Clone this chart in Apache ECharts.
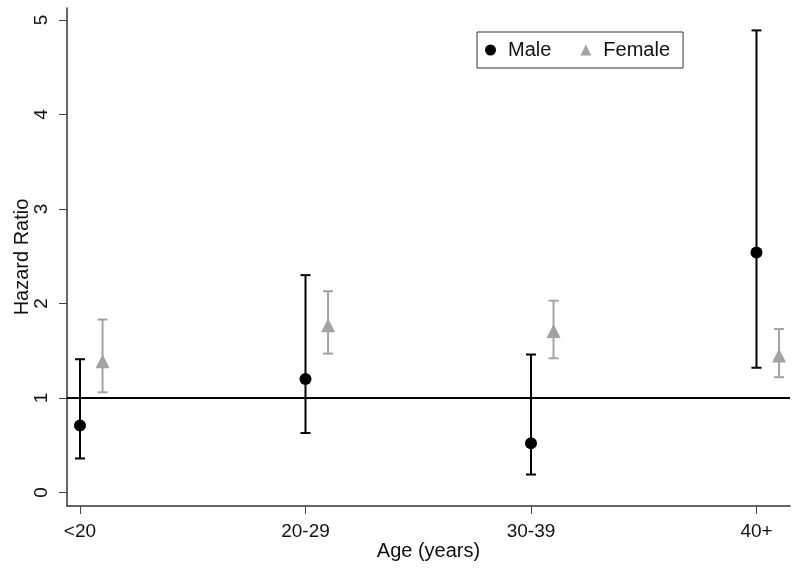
<!DOCTYPE html>
<html>
<head>
<meta charset="utf-8">
<script src="https://cdn.jsdelivr.net/npm/echarts@6/dist/echarts.min.js"></script>
<style>html,body{margin:0;padding:0;background:#fff;}#c{width:800px;height:570px;}</style>
</head>
<body>
<div id="c"></div>
<script>
const categories = ['<20', '20-29', '30-39', '40+'];
const maleHR = [0.71, 1.20, 0.52, 2.54];
const maleLo = [0.36, 0.63, 0.19, 1.32];
const maleHi = [1.41, 2.30, 1.46, 4.89];
const femaleHR = [1.39, 1.77, 1.71, 1.45];
const femaleLo = [1.06, 1.47, 1.42, 1.22];
const femaleHi = [1.83, 2.13, 2.03, 1.73];
const yTicks = [0, 1, 2, 3, 4, 5];
const refValue = 1;

const FEMALE_SHIFT = 0.1;
const catPos = categories.map((c, i) => i + 1);

const maleColor = '#000000';
const femaleColor = '#a3a3a3';
const font = 'Liberation Sans, Arial, sans-serif';

function errBar(color) {
  return function (params, api) {
    const x = api.value(0);
    const lo = api.coord([x, api.value(1)]);
    const hi = api.coord([x, api.value(2)]);
    const hw = 5;
    const st = { stroke: color, lineWidth: 2 };
    return {
      type: 'group',
      children: [
        { type: 'line', shape: { x1: lo[0], y1: lo[1], x2: hi[0], y2: hi[1] }, style: st },
        { type: 'line', shape: { x1: lo[0] - hw, y1: lo[1], x2: lo[0] + hw, y2: lo[1] }, style: st },
        { type: 'line', shape: { x1: hi[0] - hw, y1: hi[1], x2: hi[0] + hw, y2: hi[1] }, style: st }
      ]
    };
  };
}

const chart = echarts.init(document.getElementById('c'), null, { renderer: 'canvas' });
chart.setOption({
  animation: false,
  backgroundColor: '#fff',
  grid: { left: 67, right: 10, top: 8, bottom: 64, containLabel: false, outerBoundsMode: 'none' },
  legend: {
    data: [{ name: 'Male', icon: 'circle' }, { name: 'Female', icon: 'triangle' }],
    left: 477, top: 32,
    itemWidth: 11, itemHeight: 11, itemGap: 29,
    borderColor: '#333', borderWidth: 1, borderRadius: 0,
    padding: [8, 13, 8, 8],
    textStyle: { fontFamily: font, fontSize: 20, color: '#111', padding: [0, 0, 0, 7] }
  },
  xAxis: {
    type: 'value', min: 0.9424, max: 4.1486,
    name: 'Age (years)', nameLocation: 'middle', nameGap: 35, nameMoveOverlap: false,
    nameTextStyle: { fontFamily: font, fontSize: 20, color: '#111' },
    splitLine: { show: false },
    axisLine: { show: true, onZero: false, lineStyle: { color: '#333', width: 1.5 } },
    axisTick: { show: true, length: 8, customValues: catPos, lineStyle: { color: '#444', width: 1 } },
    axisLabel: {
      customValues: catPos, margin: 16,
      fontFamily: font, fontSize: 19, color: '#111',
      formatter: v => categories[Math.round(v) - 1] || ''
    }
  },
  yAxis: {
    type: 'value', min: -0.143, max: 5.127,
    name: 'Hazard Ratio', nameLocation: 'middle', nameGap: 35, nameMoveOverlap: false,
    nameTextStyle: { fontFamily: font, fontSize: 20, color: '#111' },
    splitLine: { show: false },
    axisLine: { show: true, onZero: false, lineStyle: { color: '#333', width: 1.5 } },
    axisTick: { show: true, length: 8, customValues: yTicks, lineStyle: { color: '#444', width: 1 } },
    axisLabel: {
      customValues: yTicks, rotate: 90, margin: 16,
      fontFamily: font, fontSize: 19, color: '#111'
    }
  },
  series: [
    {
      name: 'Male CI', type: 'custom', renderItem: errBar(maleColor),
      data: catPos.map((p, i) => [p, maleLo[i], maleHi[i]]),
      z: 3,
      markLine: {
        silent: true, symbol: 'none', label: { show: false },
        lineStyle: { color: '#000', width: 2, type: 'solid' },
        data: [{ yAxis: refValue }]
      }
    },
    {
      name: 'Female CI', type: 'custom', renderItem: errBar(femaleColor),
      data: catPos.map((p, i) => [p + FEMALE_SHIFT, femaleLo[i], femaleHi[i]]),
      z: 3
    },
    {
      name: 'Male', type: 'scatter', symbol: 'circle', symbolSize: 12,
      itemStyle: { color: maleColor, opacity: 1 },
      data: catPos.map((p, i) => [p, maleHR[i]]), z: 5
    },
    {
      name: 'Female', type: 'scatter', symbol: 'triangle', symbolSize: 14,
      itemStyle: { color: femaleColor, opacity: 1 },
      data: catPos.map((p, i) => [p + FEMALE_SHIFT, femaleHR[i]]), z: 5
    }
  ]
});
</script>
</body>
</html>
